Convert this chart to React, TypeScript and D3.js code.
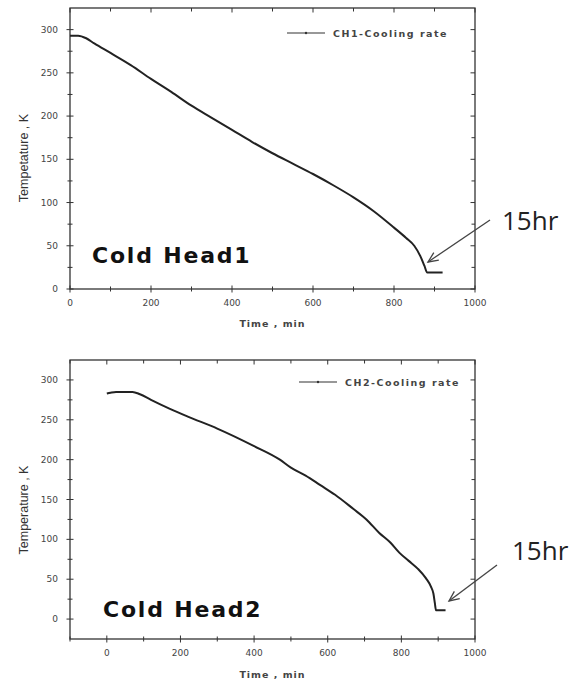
import React, { useRef, useEffect } from 'react';
import * as d3 from 'd3';

// Cold head 1 cooldown (time in min, temperature in K)
const ch1Time = [0, 20, 40, 60, 100, 150, 200, 250, 300, 350, 400, 450, 500, 550, 600, 650, 700, 750, 800, 830, 850, 865, 875, 882, 900, 920];
const ch1Temp = [293, 293, 290, 284, 273, 259, 243, 228, 212, 198, 184, 170, 157, 145, 133, 120, 106, 90, 71, 59, 50, 38, 27, 19, 19, 19];

// Cold head 2 cooldown
const ch2Time = [0, 10, 25, 70, 90, 120, 170, 220, 300, 400, 470, 500, 540, 580, 620, 670, 705, 740, 770, 795, 820, 845, 867, 880, 887, 891, 894, 920];
const ch2Temp = [283, 284, 285, 285, 282, 275, 264, 254, 239, 217, 200, 190, 180, 168, 156, 138, 125, 108, 96, 83, 73, 63, 51, 41, 32, 20, 11, 11];

const yTickValues = [0, 50, 100, 150, 200, 250, 300];
const yMinorValues = [-25, 25, 75, 125, 175, 225, 275, 325];
const xTickValues = [0, 200, 400, 600, 800, 1000];
const xMinorValues = [-100, 100, 300, 500, 700, 900];

const panels = [
  {
    time: ch1Time, temp: ch1Temp,
    xDomain: [0, 1000], yDomain: [0, 325],
    box: { left: 70, right: 475, top: 8, bottom: 289 },
    yLabel: 'Tempetature , K', legend: 'CH1-Cooling rate', title: 'Cold Head1',
    titlePos: [92, 263], hrPos: [502, 230], arrow: [[490, 220], [428, 262]],
    legendPos: [287, 33], yLabelPos: [28, 158], xLabelY: 327,
  },
  {
    time: ch2Time, temp: ch2Temp,
    xDomain: [-100, 1000], yDomain: [-25, 325],
    box: { left: 70, right: 475, top: 360, bottom: 639 },
    yLabel: 'Temperature , K', legend: 'CH2-Cooling rate', title: 'Cold Head2',
    titlePos: [103, 617], hrPos: [512, 560], arrow: [[497, 565], [449, 601]],
    legendPos: [299, 382], yLabelPos: [28, 510], xLabelY: 678,
  },
];

const App = () => {
  const svgRef = useRef(null);

  useEffect(() => {
    const svg = d3.select(svgRef.current);
    svg.selectAll('*').remove();

    panels.forEach((p) => {
      const { box } = p;
      const x = d3.scaleLinear().domain(p.xDomain).range([box.left, box.right]);
      const y = d3.scaleLinear().domain(p.yDomain).range([box.bottom, box.top]);
      const g = svg.append('g');

      // frame
      g.append('rect')
        .attr('x', box.left).attr('y', box.top)
        .attr('width', box.right - box.left).attr('height', box.bottom - box.top)
        .attr('fill', 'none').attr('stroke', '#333').attr('stroke-width', 1.3);

      const inRange = (v, dom) => v >= dom[0] && v <= dom[1];

      // x ticks (bottom crossing, top inward)
      xTickValues.concat(xMinorValues).filter((v) => inRange(v, p.xDomain)).forEach((v) => {
        const major = xTickValues.includes(v);
        const len = major ? 3.5 : 2.5;
        g.append('line').attr('x1', x(v)).attr('x2', x(v))
          .attr('y1', box.bottom - len).attr('y2', box.bottom + len)
          .attr('stroke', '#333').attr('stroke-width', 1);
        g.append('line').attr('x1', x(v)).attr('x2', x(v))
          .attr('y1', box.top).attr('y2', box.top + len + 1)
          .attr('stroke', '#333').attr('stroke-width', 1);
      });
      xTickValues.forEach((v) => {
        g.append('text').attr('x', x(v)).attr('y', box.bottom + 17)
          .attr('text-anchor', 'middle')
          .style('font-family', 'DejaVu Sans').style('font-size', '9px').style('fill', '#444')
          .text(v);
      });

      // y ticks (left crossing, right inward)
      yTickValues.concat(yMinorValues)
        .filter((v) => (inRange(v, p.yDomain) && v !== p.yDomain[0] && v !== p.yDomain[1]) || (v === 0 && p.yDomain[0] === 0))
        .forEach((v) => {
          const major = yTickValues.includes(v);
          const len = major ? 3.5 : 2.5;
          g.append('line').attr('y1', y(v)).attr('y2', y(v))
            .attr('x1', box.left - len).attr('x2', box.left + len)
            .attr('stroke', '#333').attr('stroke-width', 1);
          g.append('line').attr('y1', y(v)).attr('y2', y(v))
            .attr('x1', box.right - len - 1).attr('x2', box.right)
            .attr('stroke', '#333').attr('stroke-width', 1);
        });
      yTickValues.forEach((v) => {
        g.append('text').attr('x', box.left - 12).attr('y', y(v) + 3)
          .attr('text-anchor', 'end')
          .style('font-family', 'DejaVu Sans').style('font-size', '9px').style('fill', '#444')
          .text(v);
      });

      // axis titles
      g.append('text')
        .attr('transform', `translate(${p.yLabelPos[0]},${p.yLabelPos[1]}) rotate(-90)`)
        .attr('text-anchor', 'middle')
        .style('font-family', 'Liberation Sans').style('font-size', '12.5px').style('fill', '#333')
        .text(p.yLabel);
      g.append('text').attr('x', (box.left + box.right) / 2).attr('y', p.xLabelY)
        .attr('text-anchor', 'middle')
        .style('font-family', 'DejaVu Sans').style('font-size', '9.5px')
        .style('font-weight', 'bold').style('letter-spacing', '1px').style('fill', '#444')
        .text('Time , min');

      // curve
      const pts = p.time.map((t, i) => [t, p.temp[i]]);
      g.append('path').datum(pts)
        .attr('d', d3.line().x((d) => x(d[0])).y((d) => y(d[1])).curve(d3.curveMonotoneX))
        .attr('fill', 'none').attr('stroke', '#222').attr('stroke-width', 2)
        .attr('stroke-linejoin', 'round');

      // legend
      const [lx, ly] = p.legendPos;
      g.append('line').attr('x1', lx).attr('x2', lx + 38).attr('y1', ly).attr('y2', ly)
        .attr('stroke', '#333').attr('stroke-width', 1.2);
      g.append('circle').attr('cx', lx + 19).attr('cy', ly).attr('r', 1.2).attr('fill', '#333');
      g.append('text').attr('x', lx + 46).attr('y', ly + 3.5)
        .style('font-family', 'DejaVu Sans').style('font-size', '9.5px')
        .style('font-weight', 'bold').style('letter-spacing', '1.5px').style('fill', '#444')
        .text(p.legend);

      // panel title
      g.append('text').attr('x', p.titlePos[0]).attr('y', p.titlePos[1])
        .style('font-family', 'DejaVu Sans').style('font-size', '22px')
        .style('font-weight', 'bold').style('letter-spacing', '1.8px').style('fill', '#111')
        .text(p.title);

      // 15hr annotation with arrow
      g.append('text').attr('x', p.hrPos[0]).attr('y', p.hrPos[1])
        .style('font-family', 'Open Sans').style('font-size', '26px').style('fill', '#222')
        .text('15hr');
      const [[ax1, ay1], [ax2, ay2]] = p.arrow;
      const ang = Math.atan2(ay2 - ay1, ax2 - ax1);
      const head = 11;
      const spread = 0.42;
      g.append('line').attr('x1', ax1).attr('y1', ay1).attr('x2', ax2).attr('y2', ay2)
        .attr('stroke', '#444').attr('stroke-width', 1.3);
      g.append('path')
        .attr('d', `M${ax2 - head * Math.cos(ang - spread)},${ay2 - head * Math.sin(ang - spread)}L${ax2},${ay2}L${ax2 - head * Math.cos(ang + spread)},${ay2 - head * Math.sin(ang + spread)}`)
        .attr('fill', 'none').attr('stroke', '#444').attr('stroke-width', 1.3);
    });
  }, []);

  return (
    <svg ref={svgRef} width={578} height={680}
      style={{ position: 'absolute', left: 0, top: 0, background: '#fff', display: 'block' }} />
  );
};

export default App;
